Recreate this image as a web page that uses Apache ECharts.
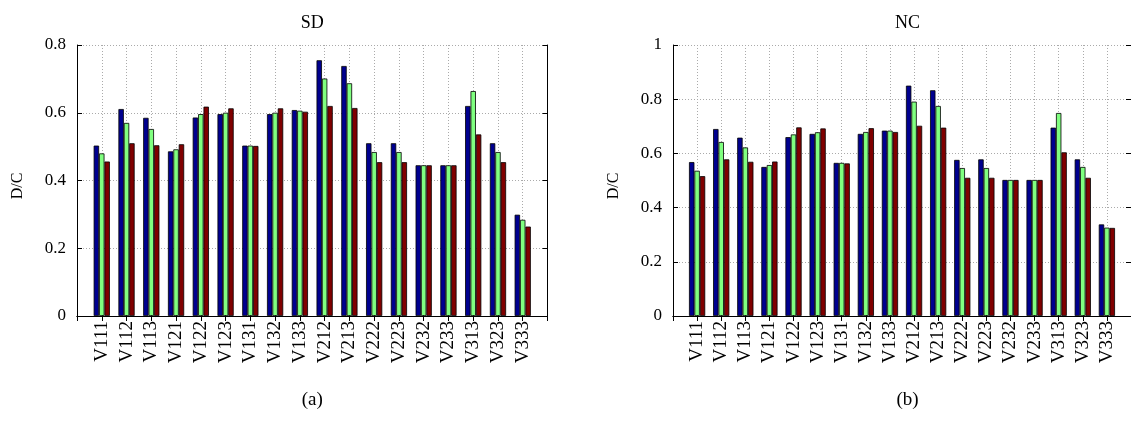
<!DOCTYPE html>
<html>
<head>
<meta charset="utf-8">
<script src="https://cdn.jsdelivr.net/npm/echarts@6/dist/echarts.min.js"></script>
<style>
html,body{margin:0;padding:0;background:#fff;overflow:hidden;}
#c{width:1131px;height:425px;}
</style>
</head>
<body>
<div id="c"></div>
<script>
var categories = ['V111','V112','V113','V121','V122','V123','V131','V132','V133','V212','V213','V222','V223','V232','V233','V313','V323','V333'];
var sdBlue  = [0.503,0.611,0.585,0.486,0.586,0.596,0.503,0.596,0.608,0.755,0.738,0.510,0.510,0.445,0.445,0.620,0.510,0.299];
var sdGreen = [0.480,0.570,0.552,0.492,0.596,0.600,0.503,0.600,0.606,0.701,0.687,0.484,0.484,0.445,0.445,0.664,0.484,0.284];
var sdRed   = [0.456,0.510,0.504,0.507,0.618,0.613,0.502,0.613,0.603,0.620,0.614,0.454,0.454,0.445,0.445,0.536,0.454,0.264];
var ncBlue  = [0.568,0.690,0.658,0.550,0.660,0.672,0.565,0.672,0.684,0.850,0.833,0.576,0.578,0.502,0.502,0.695,0.578,0.338];
var ncGreen = [0.536,0.642,0.622,0.557,0.670,0.678,0.565,0.679,0.684,0.791,0.775,0.546,0.546,0.502,0.502,0.749,0.550,0.326];
var ncRed   = [0.516,0.578,0.569,0.570,0.696,0.692,0.563,0.693,0.679,0.702,0.695,0.510,0.510,0.502,0.502,0.604,0.510,0.325];
var titles = ['SD','NC'];
var captions = ['(a)','(b)'];
var yName = 'D/C';

var FONT = 'Liberation Serif';
var colors = ['#00008F','#80FF80','#800000'];
var padCats = [''].concat(categories).concat(['']);
function pad(a){ return ['-'].concat(a).concat(['-']); }

var grids = [
  {left:77, top:45, width:470.5, height:271},
  {left:673, top:45, width:469, height:271}
];
var yMax = [0.8, 1];

var xAxes = [], yAxes = [], series = [];
grids.forEach(function(g, i){
  xAxes.push({
    type:'category', gridIndex:i, data:padCats, boundaryGap:false, position:'bottom',
    axisLine:{lineStyle:{color:'#000', width:1}},
    axisTick:{inside:true, length:5, interval:0, lineStyle:{color:'#000'}},
    axisLabel:{rotate:90, interval:0, margin:5, fontFamily:FONT, fontSize:19, color:'#000'},
    splitLine:{show:true, interval:0, lineStyle:{color:'#aaa', type:[1,2], width:1}}
  });
  xAxes.push({
    type:'category', gridIndex:i, data:padCats, boundaryGap:false, position:'top',
    axisLine:{lineStyle:{color:'#000', width:1}},
    axisTick:{inside:true, length:5, interval:0, lineStyle:{color:'#000'}},
    axisLabel:{show:false}, splitLine:{show:false}
  });
  yAxes.push({
    type:'value', gridIndex:i, min:0, max:yMax[i], interval:0.2, position:'left',
    axisLine:{show:true, lineStyle:{color:'#000', width:1}},
    axisTick:{show:true, inside:true, length:5, lineStyle:{color:'#000'}},
    axisLabel:{margin:11, fontFamily:FONT, fontSize:17, color:'#000'},
    splitLine:{show:true, lineStyle:{color:'#aaa', type:[1,2], width:1}}
  });
  yAxes.push({
    type:'value', gridIndex:i, min:0, max:yMax[i], interval:0.2, position:'right',
    axisLine:{show:true, lineStyle:{color:'#000', width:1}},
    axisTick:{show:true, inside:true, length:5, lineStyle:{color:'#000'}},
    axisLabel:{show:false}, splitLine:{show:false}
  });
});

var dataSets = [[sdBlue, sdGreen, sdRed],[ncBlue, ncGreen, ncRed]];
dataSets.forEach(function(set, i){
  set.forEach(function(vals, k){
    series.push({
      type:'bar', xAxisIndex:i*2, yAxisIndex:i*2, data:pad(vals),
      barWidth:5.4, barGap:'0%',
      itemStyle:{color:colors[k], borderColor:'#000', borderWidth:0.8},
      silent:true, animation:false
    });
  });
});

var graphics = [];
grids.forEach(function(g, i){
  var cx = g.left + g.width/2;
  graphics.push({type:'text', x:cx, y:23, style:{text:titles[i], font:'18px "'+FONT+'"', fill:'#000', textAlign:'center', textVerticalAlign:'middle'}});
  graphics.push({type:'text', x:cx, y:400, style:{text:captions[i], font:'19px "'+FONT+'"', fill:'#000', textAlign:'center', textVerticalAlign:'middle'}});
  graphics.push({type:'text', x:g.left-59, y:186, rotation:Math.PI/2, style:{text:yName, font:'16px "'+FONT+'"', fill:'#000', textAlign:'center', textVerticalAlign:'middle'}});
});

var chart = echarts.init(document.getElementById('c'), null, {renderer:'canvas'});
chart.setOption({
  animation:false,
  grid:grids.map(function(g){ return Object.assign({containLabel:false}, g); }),
  xAxis:xAxes, yAxis:yAxes, series:series, graphic:graphics
});
</script>
</body>
</html>
